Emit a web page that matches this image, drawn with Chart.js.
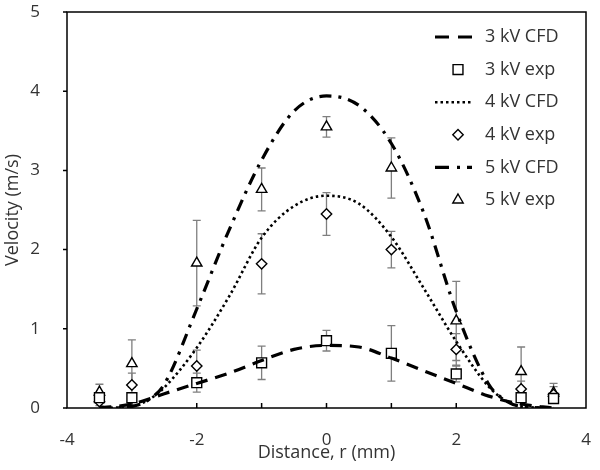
<!DOCTYPE html>
<html>
<head>
<meta charset="utf-8">
<script src="https://cdn.jsdelivr.net/npm/chart.js@4.4.1/dist/chart.umd.min.js"></script>
<style>
  html, body { margin: 0; padding: 0; background: #fff; }
  #wrap { width: 600px; height: 470px; }
</style>
</head>
<body>
<div id="wrap"><canvas id="chart"></canvas></div>
<script>
// experimental positions (mm)
const expX = [-3.5, -3, -2, -1, 0, 1, 2, 3, 3.5];

const exp3 = [0.13, 0.13, 0.32, 0.57, 0.85, 0.69, 0.43, 0.13, 0.12];
const err3 = [0.05, 0.05, 0.12, 0.21, 0.13, 0.35, 0.10, 0.05, 0.05];
const exp4 = [0.08, 0.29, 0.53, 1.82, 2.45, 2.00, 0.74, 0.24, 0.17];
const err4 = [0.05, 0.15, 0.20, 0.38, 0.27, 0.23, 0.20, 0.10, 0.10];
const exp5 = [0.20, 0.56, 1.83, 2.76, 3.55, 3.03, 1.10, 0.46, 0.19];
const err5 = [0.10, 0.30, 0.54, 0.27, 0.13, 0.38, 0.50, 0.31, 0.12];

// CFD profiles
const cfd3X = [-3.5, -3, -2.5, -2, -1.5, -1, -0.5, 0, 0.5, 1, 1.5, 2, 2.5, 3, 3.5];
const cfd3 = [0.0, 0.05, 0.18, 0.31, 0.44, 0.60, 0.74, 0.79, 0.77, 0.63, 0.47, 0.31, 0.15, 0.05, 0.0];

const cfdX = [-3.5, -3, -2.75, -2.5, -2, -1.5, -1, -0.5, 0, 0.5, 1, 1.5, 2, 2.5, 2.75, 3, 3.5];
const cfd4 = [0, 0.02, 0.10, 0.26, 0.76, 1.41, 2.15, 2.55, 2.68, 2.58, 2.16, 1.51, 0.84, 0.27, 0.10, 0.02, 0];
const cfd5 = [0, 0.02, 0.10, 0.30, 1.25, 2.25, 3.13, 3.75, 3.94, 3.82, 3.34, 2.46, 1.22, 0.30, 0.10, 0.02, 0];

const xTickLabels = ['-4', '-2', '0', '2', '4'];
const yTickLabels = ['0', '1', '2', '3', '4', '5'];

const pts = (xs, ys) => xs.map((x, i) => ({ x: x, y: ys[i] }));
const font = "'Open Sans', 'DejaVu Sans', sans-serif";
const textColor = '#333';

function lineSet(label, xs, ys, dash, width, legendDash) {
    return {
        type: 'line', label: label, data: pts(xs, ys),
        borderColor: '#000', borderWidth: width, borderDash: dash,
        pointRadius: 0, cubicInterpolationMode: 'monotone', fill: false,
        legendDash: legendDash
    };
}

function markerSet(label, ys, errs, style, radius) {
    return {
        type: 'scatter', label: label, data: pts(expX, ys), errors: errs,
        pointStyle: style, pointRadius: radius, pointHoverRadius: radius,
        backgroundColor: '#fff', borderColor: '#000', borderWidth: 1.4
    };
}

const datasets = [
    lineSet('3 kV CFD', cfd3X, cfd3, [12, 8], 3.2, [14, 9]),
    markerSet('3 kV exp', exp3, err3, 'rect', 7),
    lineSet('4 kV CFD', cfdX, cfd4, [2.5, 3], 2.6, [2.5, 3]),
    markerSet('4 kV exp', exp4, err4, 'rectRot', 5.2),
    lineSet('5 kV CFD', cfdX, cfd5, [12, 7, 3, 7], 3.2, [14, 8, 3, 7]),
    markerSet('5 kV exp', exp5, err5, 'triangle', 6)
];

// error bars under markers
const errorBars = {
    id: 'errorBars',
    beforeDatasetsDraw(chart) {
        const ctx = chart.ctx, xs = chart.scales.x, ys = chart.scales.y;
        ctx.save();
        ctx.strokeStyle = '#7f7f7f';
        ctx.lineWidth = 1.3;
        chart.data.datasets.forEach(ds => {
            if (!ds.errors) return;
            ds.data.forEach((p, i) => {
                const px = xs.getPixelForValue(p.x);
                const top = ys.getPixelForValue(p.y + ds.errors[i]);
                const bot = ys.getPixelForValue(Math.max(0, p.y - ds.errors[i]));
                ctx.beginPath();
                ctx.moveTo(px, top); ctx.lineTo(px, bot);
                ctx.moveTo(px - 4, top); ctx.lineTo(px + 4, top);
                ctx.moveTo(px - 4, bot); ctx.lineTo(px + 4, bot);
                ctx.stroke();
            });
        });
        ctx.restore();
    }
};

// plot box, tick marks and the legend
const frame = {
    id: 'frame',
    afterDraw(chart) {
        const ctx = chart.ctx, a = chart.chartArea;
        const xs = chart.scales.x, ys = chart.scales.y;
        ctx.save();
        ctx.strokeStyle = '#000';
        ctx.lineWidth = 1.5;
        ctx.setLineDash([]);
        ctx.strokeRect(a.left, a.top, a.right - a.left, a.bottom - a.top);
        ctx.beginPath();
        for (let v = -3; v <= 3; v++) {
            const px = xs.getPixelForValue(v);
            ctx.moveTo(px, a.bottom); ctx.lineTo(px, a.bottom - 5);
        }
        for (let v = 0; v <= 5; v++) {
            const py = ys.getPixelForValue(v);
            ctx.moveTo(a.left, py); ctx.lineTo(a.left - 4, py);
        }
        ctx.stroke();

        // legend
        const x0 = 435, x1 = 472, tx = 485;
        ctx.font = '18px ' + font;
        ctx.textBaseline = 'middle';
        ctx.textAlign = 'left';
        chart.data.datasets.forEach((ds, i) => {
            const y = 37 + i * 32.6;
            if (ds.type === 'line') {
                ctx.strokeStyle = '#000';
                ctx.lineWidth = ds.borderWidth;
                ctx.setLineDash(ds.legendDash);
                ctx.beginPath();
                ctx.moveTo(x0, y); ctx.lineTo(x1, y);
                ctx.stroke();
                ctx.setLineDash([]);
            } else {
                ctx.fillStyle = '#fff';
                ctx.strokeStyle = '#000';
                ctx.lineWidth = ds.borderWidth;
                Chart.helpers.drawPoint(ctx, {
                    pointStyle: ds.pointStyle, radius: ds.pointRadius,
                    borderWidth: ds.borderWidth, rotation: 0
                }, 458, y);
            }
            ctx.fillStyle = textColor;
            ctx.fillText(ds.label, tx, y);
        });
        ctx.restore();
    }
};

new Chart(document.getElementById('chart'), {
    data: { datasets: datasets },
    options: {
        responsive: true,
        maintainAspectRatio: false,
        animation: false,
        layout: { padding: { top: 12, right: 14, left: 0, bottom: 0 } },
        plugins: { legend: { display: false }, tooltip: { enabled: false } },
        scales: {
            x: {
                type: 'linear', min: -4, max: 4,
                grid: { display: false }, border: { display: false },
                afterFit: s => { s.height = 62; s.paddingLeft = 0; s.paddingRight = 0; },
                afterBuildTicks: s => { s.ticks = xTickLabels.map(t => ({ value: Number(t) })); },
                ticks: {
                    padding: 14, color: textColor, font: { family: font, size: 17 },
                    callback: v => xTickLabels.find(t => Number(t) === v)
                },
                title: {
                    display: true, text: 'Distance, r (mm)', color: textColor,
                    font: { family: font, size: 18 }, padding: { top: 0, bottom: 6 }
                }
            },
            y: {
                type: 'linear', min: 0, max: 5,
                grid: { display: false }, border: { display: false },
                afterFit: s => { s.width = 67; s.paddingTop = 0; s.paddingBottom = 0; },
                afterBuildTicks: s => { s.ticks = yTickLabels.map(t => ({ value: Number(t) })); },
                ticks: {
                    padding: 19, color: textColor, font: { family: font, size: 17 },
                    callback: v => yTickLabels.find(t => Number(t) === v)
                },
                title: {
                    display: true, text: 'Velocity (m/s)', color: textColor,
                    font: { family: font, size: 18 }, padding: { top: 2, bottom: 0 }
                }
            }
        }
    },
    plugins: [errorBars, frame]
});
</script>
</body>
</html>
